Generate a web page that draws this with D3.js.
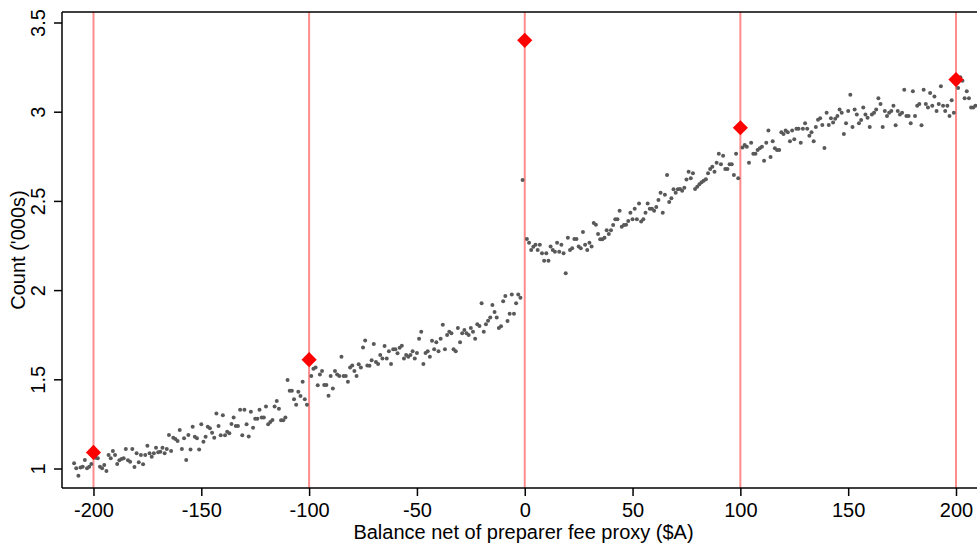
<!DOCTYPE html>
<html>
<head>
<meta charset="utf-8">
<style>
  body { margin: 0; background: #fff; }
  text { font-family: "Liberation Sans", Arial, Helvetica, sans-serif; fill: #000; }
</style>
</head>
<body>
<div id="chart-area"></div>

<script src="https://cdn.jsdelivr.net/npm/d3@7"></script>
<script>
    // counts ('000s) per $1 bin
    const binsFrom200 = -209;   // -209 .. -201
    const counts200 = [1.029, 1.001, 0.96, 1.005, 1.01, 1.048, 1.001, 1.01, 1.025];

    const binsFrom100 = -199;   // -199 .. -101
    const counts100 = [
        1.06, 1.057, 1.01, 1.001, 1.02, 0.986, 1.076, 1.057, 1.098, 1.076,
        1.025, 1.046, 1.053, 1.057, 1.109, 1.046, 1.038, 1.109, 1.008, 1.085,
        1.035, 1.076, 1.024, 1.076, 1.128, 1.085, 1.066, 1.085, 1.117, 1.091,
        1.094, 1.117, 1.085, 1.109, 1.188, 1.098, 1.173, 1.165, 1.154, 1.216,
        1.109, 1.169, 1.048, 1.188, 1.107, 1.234, 1.178, 1.169, 1.107, 1.248,
        1.15, 1.178, 1.234, 1.225, 1.20, 1.173, 1.309, 1.238, 1.187, 1.298,
        1.187, 1.206, 1.197, 1.25, 1.286, 1.238, 1.238, 1.329, 1.186, 1.329,
        1.248, 1.179, 1.318, 1.229, 1.279, 1.279, 1.329, 1.286, 1.286, 1.347,
        1.248, 1.261, 1.272, 1.347, 1.378, 1.335, 1.27, 1.27, 1.286, 1.496,
        1.436, 1.436, 1.388, 1.358, 1.43, 1.407, 1.486, 1.388, 1.358
    ];

    const binsFromNeg = -99;    // -99 .. -1
    const countsNeg = [
        1.519, 1.559, 1.566, 1.467, 1.527, 1.546, 1.468, 1.468, 1.408, 1.519,
        1.448, 1.546, 1.527, 1.519, 1.626, 1.519, 1.519, 1.486, 1.566, 1.578,
        1.546, 1.519, 1.585, 1.566, 1.678, 1.717, 1.578, 1.576, 1.607, 1.698,
        1.597, 1.586, 1.636, 1.616, 1.687, 1.616, 1.657, 1.586, 1.668, 1.668,
        1.646, 1.677, 1.688, 1.616, 1.636, 1.627, 1.636, 1.657, 1.616, 1.647,
        1.728, 1.767, 1.586, 1.647, 1.657, 1.627, 1.716, 1.668, 1.707, 1.657,
        1.728, 1.806, 1.668, 1.748, 1.767, 1.758, 1.668, 1.657, 1.787, 1.707,
        1.758, 1.776, 1.758, 1.748, 1.787, 1.767, 1.728, 1.808, 1.799, 1.926,
        1.767, 1.808, 1.828, 1.847, 1.916, 1.877, 1.847, 1.787, 1.797, 1.937,
        1.967, 1.827, 1.868, 1.976, 1.868, 1.926, 1.976, 1.957, 2.617
    ];

    const binsFromPos = 1;      // 1 .. 99
    const countsPos = [
        2.286, 2.266, 2.225, 2.243, 2.254, 2.225, 2.254, 2.206, 2.165, 2.206,
        2.165, 2.245, 2.225, 2.215, 2.266, 2.215, 2.254, 2.206, 2.094, 2.294,
        2.225, 2.234, 2.286, 2.286, 2.245, 2.234, 2.325, 2.254, 2.225, 2.266,
        2.245, 2.376, 2.367, 2.315, 2.285, 2.285, 2.294, 2.335, 2.315, 2.335,
        2.365, 2.397, 2.397, 2.445, 2.355, 2.365, 2.367, 2.387, 2.434, 2.397,
        2.456, 2.397, 2.486, 2.384, 2.397, 2.434, 2.486, 2.456, 2.456, 2.445,
        2.466, 2.505, 2.546, 2.434, 2.535, 2.645, 2.494, 2.515, 2.566, 2.546,
        2.566, 2.567, 2.557, 2.574, 2.62, 2.664, 2.627, 2.655, 2.567, 2.58,
        2.593, 2.604, 2.613, 2.622, 2.655, 2.679, 2.692, 2.664, 2.714, 2.765,
        2.705, 2.753, 2.679, 2.679, 2.705, 2.705, 2.645, 2.765, 2.627
    ];

    const binsFrom101 = 101;    // 101 .. 199
    const counts101 = [
        2.80, 2.813, 2.804, 2.714, 2.826, 2.765, 2.765, 2.785, 2.795, 2.804,
        2.725, 2.826, 2.895, 2.746, 2.835, 2.795, 2.785, 2.785, 2.885, 2.875,
        2.895, 2.885, 2.835, 2.895, 2.845, 2.905, 2.905, 2.826, 2.905, 2.935,
        2.905, 2.865, 2.885, 2.835, 2.914, 2.955, 2.964, 2.925, 2.797, 2.994,
        2.925, 2.964, 2.939, 2.96, 2.976, 3.013, 2.994, 2.875, 2.935, 3.004,
        3.095, 2.914, 3.013, 2.985, 2.935, 2.953, 3.024, 2.985, 2.966, 2.914,
        2.985, 2.994, 3.013, 3.075, 3.043, 2.914, 3.004, 2.976, 2.994, 3.004,
        3.034, 2.924, 3.004, 2.985, 2.994, 3.123, 2.976, 2.976, 2.935, 3.114,
        2.976, 3.034, 3.043, 2.924, 3.123, 3.043, 3.024, 3.105, 3.034, 3.085,
        3.004, 3.043, 3.143, 3.034, 3.004, 3.034, 2.976, 3.064, 2.994
    ];

    const binsFrom201 = 201;    // 201 .. 209
    const counts201 = [3.133, 3.193, 3.174, 3.075, 3.114, 3.075, 3.024, 3.024, 3.034];

    // round-number bins, drawn as diamonds
    const roundBins = [-200, -100, 0, 100, 200];
    const roundCounts = [1.09, 1.61, 3.40, 2.91, 3.18];

    const xTicks = [-200, -150, -100, -50, 0, 50, 100, 150, 200];
    const yTicks = [1, 1.5, 2, 2.5, 3, 3.5];

    const width = 977;
    const height = 543;
    const margin = {top: 12, right: 0, bottom: 55, left: 62};
    const fontSize = "20px";

    const points = [];
    [[binsFrom200, counts200], [binsFrom100, counts100], [binsFromNeg, countsNeg],
     [binsFromPos, countsPos], [binsFrom101, counts101], [binsFrom201, counts201]]
        .forEach(([start, arr]) => arr.forEach((c, i) => points.push({bin: start + i, count: c})));

    const x = d3.scaleLinear()
        .domain([-214.6, 209.74])
        .range([margin.left, width - margin.right]);

    const y = d3.scaleLinear()
        .domain([0.8907, 3.5589])
        .range([height - margin.bottom, margin.top]);

    const svg = d3.select("#chart-area")
        .append("svg")
            .attr("width", width)
            .attr("height", height);

    // reference lines at round values
    svg.append("g")
        .selectAll("line")
        .data(roundBins)
        .join("line")
            .attr("x1", d => x(d))
            .attr("x2", d => x(d))
            .attr("y1", margin.top)
            .attr("y2", height - margin.bottom)
            .attr("stroke", "#ff8c8c")
            .attr("stroke-width", 2);

    // binned counts
    svg.append("g")
        .selectAll("circle")
        .data(points)
        .join("circle")
            .attr("cx", d => x(d.bin))
            .attr("cy", d => y(d.count))
            .attr("r", 2)
            .attr("fill", "#595959");

    // diamonds
    const diamond = d3.symbol().type(d3.symbolSquare).size(115);
    svg.append("g")
        .selectAll("path")
        .data(roundBins.map((b, i) => ({bin: b, count: roundCounts[i]})))
        .join("path")
            .attr("d", diamond)
            .attr("transform", d => `translate(${x(d.bin)},${y(d.count)}) rotate(45)`)
            .attr("fill", "#ff0000");

    // x axis
    const xAxis = svg.append("g")
        .attr("transform", `translate(0,${height - margin.bottom})`)
        .call(d3.axisBottom(x).tickValues(xTicks).tickSize(8).tickSizeOuter(0)
            .tickFormat(d => String(d)));
    xAxis.select(".domain").remove();
    xAxis.selectAll(".tick line").attr("stroke", "#000").attr("stroke-width", 1.5);
    xAxis.selectAll(".tick text")
        .attr("y", 29).attr("dy", 0)
        .style("font-size", fontSize);

    // y axis
    const yAxis = svg.append("g")
        .attr("transform", `translate(${margin.left},0)`)
        .call(d3.axisLeft(y).tickValues(yTicks).tickSize(8).tickSizeOuter(0)
            .tickFormat(d => String(d)));
    yAxis.select(".domain").remove();
    yAxis.selectAll(".tick line").attr("stroke", "#000").attr("stroke-width", 1.5);
    yAxis.selectAll(".tick text")
        .attr("transform", "rotate(-90)")
        .attr("x", 0).attr("y", -17).attr("dy", 0)
        .attr("text-anchor", "middle")
        .style("font-size", fontSize);

    // frame
    const frame = svg.append("g")
        .attr("stroke", "#000")
        .attr("stroke-width", 1.5);
    frame.append("line")
        .attr("x1", margin.left).attr("x2", margin.left)
        .attr("y1", margin.top).attr("y2", height - margin.bottom);
    frame.append("line")
        .attr("x1", margin.left).attr("x2", width)
        .attr("y1", height - margin.bottom).attr("y2", height - margin.bottom);
    frame.append("line")
        .attr("x1", margin.left).attr("x2", width)
        .attr("y1", margin.top).attr("y2", margin.top);

    // axis titles
    svg.append("text")
        .attr("x", (margin.left + width) / 2 + 4)
        .attr("y", 539)
        .attr("text-anchor", "middle")
        .style("font-size", fontSize)
        .text("Balance net of preparer fee proxy ($A)");

    svg.append("text")
        .attr("transform", `translate(24.5,${(margin.top + height - margin.bottom) / 2}) rotate(-90)`)
        .attr("text-anchor", "middle")
        .style("font-size", fontSize)
        .text("Count ('000s)");
</script>
</body>
</html>
